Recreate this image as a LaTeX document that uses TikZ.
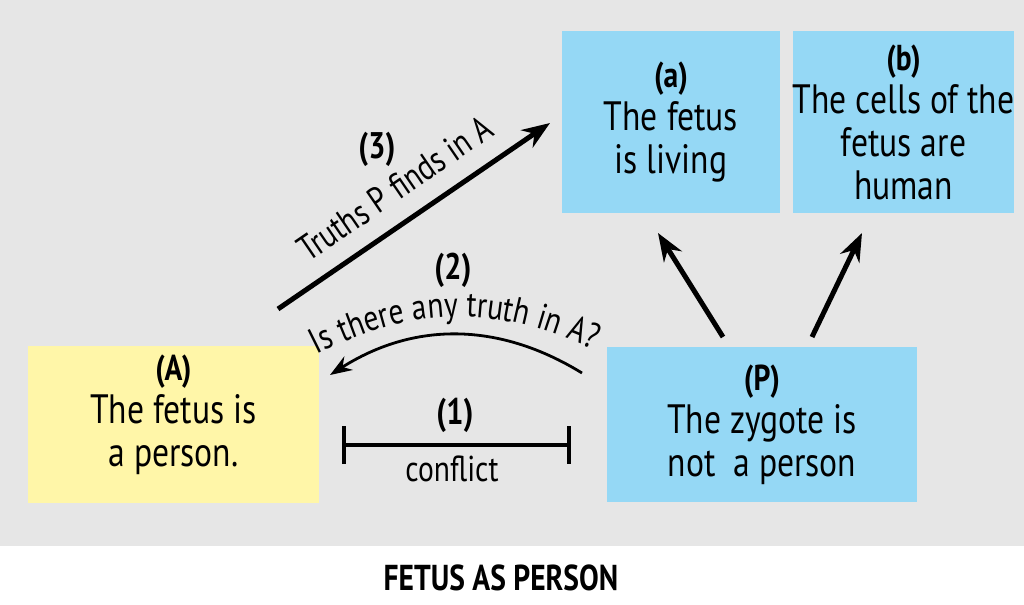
\documentclass[tikz,border=0pt]{standalone}
\usepackage{fontspec}
\setmainfont{PT Sans}[FakeStretch=0.82]
\usepackage{xcolor}
\usetikzlibrary{arrows.meta,decorations.text,positioning}
\definecolor{bggray}{RGB}{230,230,230}
\definecolor{boxyellow}{RGB}{255,246,168}
\definecolor{boxblue}{RGB}{149,216,245}
\newcommand{\boxfont}{\fontsize{20.5}{21.5}\selectfont}
\newcommand{\lblfont}{\fontsize{18}{20}\selectfont}
\newcommand{\boxtag}[1]{{\fontsize{18}{21.5}\selectfont\bfseries #1}}

\begin{document}
\begin{tikzpicture}[x=0.5pt, y=-0.5pt,
                    claim/.style={inner sep=0pt, align=center, font=\boxfont},
                    yellowbox/.style={claim, fill=boxyellow, minimum width=145.5pt, minimum height=78.5pt},
                    bluebox/.style={claim, fill=boxblue},
                    numlbl/.style={inner sep=0pt, font=\fontsize{18.5}{20}\selectfont\bfseries},
                    txtlbl/.style={inner sep=0pt, font=\lblfont},
                    bigarrow/.style={line width=2.5pt, -{Stealth[length=14pt, width=10.5pt]}},
                    curvearrow/.style={line width=1.4pt, -{Stealth[length=11pt, width=8pt]}},
                    conflictbar/.style={line width=2pt, {Bar[width=19pt]}-{Bar[width=19pt]}},
                   ]

\fill[white] (0,0) rectangle (1024,605);
\fill[bggray] (0,0) rectangle (1024,546);

\node[yellowbox] (A) at (173.5,424.5) {\boxtag{(A)}\\The fetus is\\a person.\rule[-14pt]{0pt}{14pt}};
\node[bluebox, minimum width=155pt, minimum height=77.5pt] (P) at (762,424.5) {\boxtag{(P)}\\The zygote is\\not\ \ a person};
\node[bluebox, minimum width=109pt, minimum height=91pt] (a) at (671,122) {\boxtag{(a)}\\The fetus\\is living};
\node[bluebox, minimum width=109pt, minimum height=91pt, right=6pt of a] (b) {\boxtag{(b)}\\The cells of the\\fetus are\\human};

\coordinate (c1l) at (342,445);
\coordinate (c1r) at (571,445);
\draw[conflictbar] (c1l) -- (c1r);
\node[numlbl] (n1) at (455,415) {(1)};
\node[txtlbl] (conflict) at (452,469) {conflict};

\coordinate (q2s) at (582,373);
\coordinate (q2e) at (330,375);
\draw[curvearrow] (q2s) to[bend right=32] (q2e);
\path[decorate, decoration={text along path, text align=center,
      text={|\lblfont|Is there any truth in A?}}] (316,355) to[bend left=26] (594,350);
\node[numlbl] (n2) at (453,270) {(2)};

\coordinate (t3s) at (278,309);
\coordinate (t3e) at (550,123);
\draw[bigarrow] (t3s) -- (t3e) node[txtlbl, pos=0.5, above=9pt, sloped] (truths) {Truths P finds in A};
\node[numlbl] (n3) at (377,149) {(3)};

\coordinate (pa) at (723,337);
\coordinate (ap) at (658,233);
\coordinate (pb) at (812,337);
\coordinate (bp) at (862,233);
\draw[bigarrow] (pa) -- (ap);
\draw[bigarrow] (pb) -- (bp);

\node[inner sep=0pt, font=\fontsize{18}{20}\selectfont\bfseries] (title) at (501,577.5) {FETUS AS PERSON};

\end{tikzpicture}
\end{document}
